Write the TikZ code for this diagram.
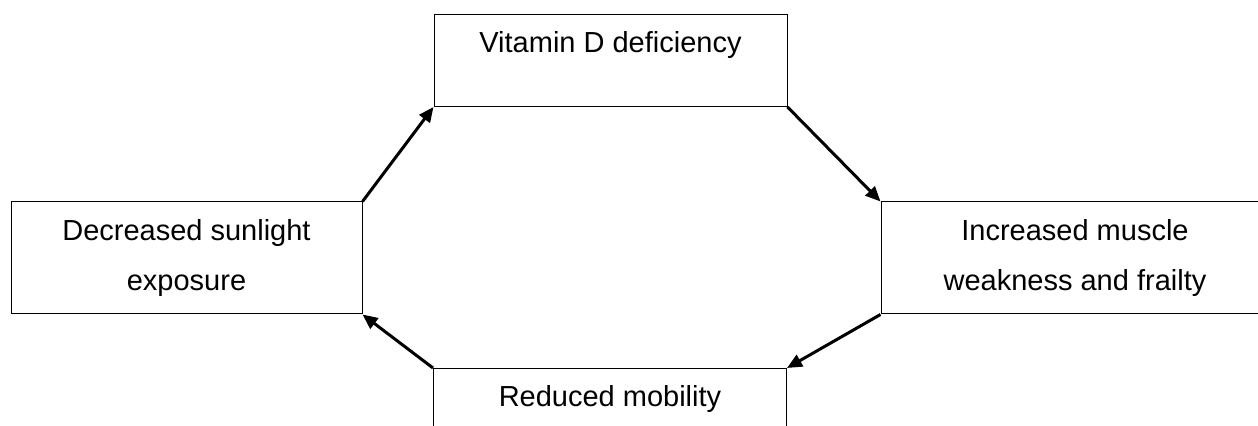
\documentclass[tikz,border=0pt]{standalone}
\usepackage{fontspec}
\setmainfont{Liberation Sans}
\usetikzlibrary{arrows.meta,positioning}
\tikzset{
  box/.style={draw, line width=0.5pt, align=center, inner sep=0pt, fill=white,
    font=\fontsize{14.5}{25}\selectfont},
  topbox/.style={box, anchor=north, minimum width=176.5pt, text height=19pt, text depth=27pt},
  sidebox/.style={box, minimum height=56pt},
  arr/.style={-{Triangle[length=7.5pt, width=6.5pt]}, line width=1.5pt}}
\begin{document}
\begin{tikzpicture}[x=0.5pt, y=-0.5pt]
  \clip (0,0) rectangle (1258,426);
  % four stages of the cycle
  \node[topbox] (vitd) at (610.5,14) {Vitamin D deficiency};
  \node[sidebox, minimum width=175.5pt] (sun) at (186.5,258) {Decreased sunlight\\exposure};
  \node[sidebox, minimum width=194pt] (musc) at (1075,258) {Increased muscle\\weakness and frailty};
  \node[topbox] (mob) at (610,368) {Reduced mobility};
  % arrows corner to corner
  \draw[arr] (sun.north east) -- (vitd.south west);
  \draw[arr] (vitd.south east) -- (musc.north west);
  \draw[arr] (musc.south west) -- (mob.north east);
  \draw[arr] (mob.north west) -- (sun.south east);
\end{tikzpicture}
\end{document}
